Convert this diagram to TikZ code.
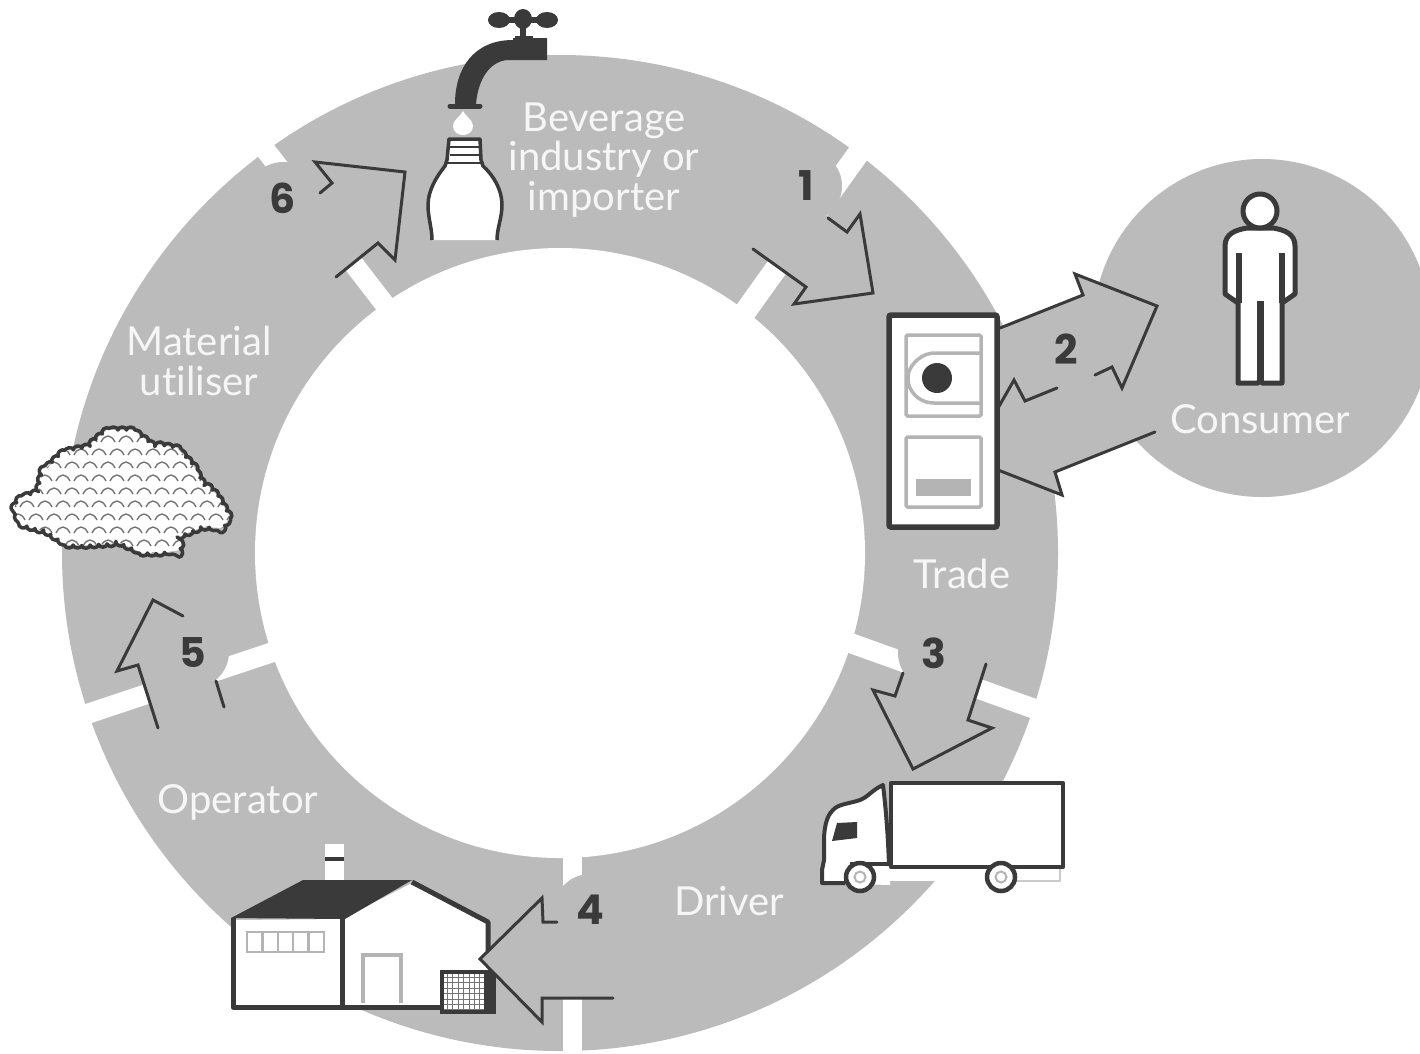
\documentclass[tikz,border=0pt]{standalone}
\usepackage{fontspec}
\setmainfont{Lato}[Ligatures=NoCommon]
\newfontfamily\numfont{Poppins}
\usetikzlibrary{decorations.pathmorphing}
\definecolor{ringgray}{HTML}{BBBBBB}
\definecolor{ink}{HTML}{3A3A3A}
\definecolor{soft}{HTML}{F6F6F6}
\definecolor{panel}{HTML}{B4B4B4}
\tikzset{
 gapline/.style={white,line width=20pt,line cap=butt},
 arrowfill/.style={fill=ringgray,draw=none},
 arrowline/.style={ink,line width=3pt,line join=miter,line cap=round},
 label/.style={text=soft,font=\fontsize{40}{39.5}\selectfont,align=center,inner sep=0pt},
 num/.style={text=ink,font=\numfont\fontsize{41}{41}\selectfont\bfseries,inner sep=0pt},
 numback/.style={fill=ringgray,draw=none},
 icon/.style={ink,line width=5pt,line join=round},
 panelline/.style={panel,line width=3.5pt,rounded corners=1.5pt},
}
\begin{document}
\begin{tikzpicture}[x=1pt,y=-1pt]
\useasboundingbox (0,0) rectangle (1420,1053);
\clip (0,0) rectangle (1420,1053);
\fill[white] (0,0) rectangle (1420,1053);
% ring and consumer disc
\fill[ringgray] (560,553) circle[radius=498];
\fill[ringgray] (1262,328) circle[radius=169];
% gaps
\draw[gapline,line width=22pt] (700,375) -- (875,130);
\draw[gapline] (800,625) -- (1060,718);
\draw[gapline,line width=19pt] (572.5,800) -- (572.5,1060);
\draw[gapline] (330,633) -- (60,723);
\draw[gapline] (420,350) -- (250,130);
\fill[white] (560,553) circle[radius=305];
% tap
\fill[ink] (513,38) -- (547,38) -- (547,60) -- (507,60) .. controls (489,62) and (478,80) .. (476,104) -- (455,104) .. controls (455,68) and (474,40) .. (513,40) -- cycle;
\draw[ink,line width=5pt,line cap=round] (450,106) -- (480,106);
\draw[ink,line width=6pt] (523,20) -- (523,38);
\draw[ink,line width=6pt] (500,20) -- (548,20);
\fill[ink] (523,19) ellipse[x radius=9,y radius=10];
\fill[ink] (499,20) ellipse[x radius=11,y radius=8];
\fill[ink] (547,20) ellipse[x radius=11,y radius=8];
\fill[ink] (515,36) rectangle (533,40);
% drop
\fill[white] (463,111) .. controls (467,118) and (473,120) .. (473,126) .. controls (473,138) and (453,138) .. (453,126) .. controls (453,120) and (459,118) .. (463,111) -- cycle;
% bottle
\fill[white] (449,139) -- (480,139) -- (482,163) .. controls (494,176) and (502,190) .. (502,205) .. controls (502,218) and (497,228) .. (497,240) -- (432,240) .. controls (432,228) and (428,218) .. (428,205) .. controls (428,190) and (437,176) .. (448,163) -- cycle;
\draw[ink,line width=3.5pt,line join=round] (432,240) .. controls (432,228) and (428,218) .. (428,205) .. controls (428,190) and (437,176) .. (445,166) -- (447,160) -- (449,139) -- (480,139) -- (481,160) -- (483,166) .. controls (494,176) and (502,190) .. (502,205) .. controls (502,218) and (497,228) .. (497,240);
\draw[ink,line width=2.5pt] (450,147) -- (480,147) (450,155) -- (480,155) (446,163) -- (484,163);
\fill[white] (456,149) rectangle (470,153);
% arrow 1
\fill[arrowfill] (753,249) -- (806,186) -- (828,218) -- (847,232) -- (860,214) -- (873,293) -- (794,304) -- (806,287) -- cycle;
\fill[numback] (806,186) circle[radius=36];
\draw[arrowline] (828,218) -- (847,232) -- (860,214) -- (873,293) -- (794,304) -- (806,287) -- (753,249);
% arrow 3
\fill[arrowfill] (903,673) -- (895,696) -- (873,690) -- (913,769) -- (992,728) -- (968,720) -- (986,664) -- (934,653) -- cycle;
\fill[numback] (934,653) circle[radius=36];
\draw[arrowline] (903,673) -- (895,696) -- (873,690) -- (913,769) -- (992,728) -- (968,720) -- (986,664);
% factory
\fill[white] (325,844) rectangle (344,882);
\fill[ink] (325,857) rectangle (344,861);
\fill[white] (233,920) -- (342,919) -- (410,884) -- (488,923) -- (488,1007) -- (233,1007) -- cycle;
\fill[ink] (231,918) -- (303,880) -- (412,880) -- (345,919) -- cycle;
\draw[icon] (233,918) -- (233,1007) -- (442,1007);
\draw[icon] (342,918) -- (342,1007);
\draw[icon] (412,882) -- (488,922) -- (488,955);
\draw[panel,line width=2.5pt] (247,932) rectangle (324,952);
\foreach \wx in {262.4,277.8,293.2,308.6}
  \draw[panel,line width=2.5pt] (\wx,932) -- (\wx,952);
\draw[panel,line width=4pt] (363,1003) -- (363,955) -- (401,955) -- (401,1003);
\fill[ink] (485,970) rectangle (496,1014);
\fill[white] (442,972) rectangle (486,1012);
\foreach \gx in {447.4,452.8,...,484} \draw[ink!70,line width=0.9pt] (\gx,972) -- (\gx,1012);
\foreach \gy in {977.4,982.8,...,1010} \draw[ink!70,line width=0.9pt] (442,\gy) -- (486,\gy);
\draw[ink,line width=4pt] (442,972) rectangle (486,1012);
% arrow 4
\fill[arrowfill] (480,959) -- (542,898) -- (543,922) -- (590,910) -- (613,998) -- (542,998) -- (542,1022) -- cycle;
\fill[numback] (590,910) circle[radius=36];
\draw[arrowline] (557,922) -- (543,922) -- (542,898) -- (480,959) -- (542,1022) -- (542,998) -- (613,998);
% arrow 5
\fill[arrowfill] (158,728) -- (138,665) -- (117,671) -- (153,600) -- (183,616) -- (193,652) -- (216,681) -- (224,707) -- cycle;
\fill[numback] (193,652) circle[radius=36];
\draw[arrowline] (183,616) -- (153,600) -- (117,671) -- (138,665) -- (158,728);
\draw[arrowline] (216,681) -- (224,707);
% arrow 6
\fill[arrowfill] (320,193) -- (332,183) -- (315,162) -- (405,172) -- (395,260) -- (378,243) -- (336,277) -- (283,198) -- cycle;
\fill[numback] (283,198) circle[radius=36];
\draw[arrowline] (320,193) -- (332,183) -- (315,162) -- (405,172) -- (395,260) -- (378,243) -- (336,277);
% arrow 2
\fill[arrowfill] (998,328) -- (1083,295) -- (1075,274) -- (1157,306) -- (1122,388) -- (1112,367) -- (1155,432) -- (1055,472) -- (1062,495) -- (998,470) -- cycle;
\draw[arrowline] (1000,328) -- (1083,295) -- (1075,274) -- (1157,306) -- (1122,388) -- (1112,367) -- (1095,375);
\draw[arrowline] (1057,388) -- (1025,401) -- (1014,380) -- (998,408);
\draw[arrowline] (1155,432) -- (1055,472) -- (1062,495) -- (998,470);
% vending machine
\draw[ink,line width=5.5pt,fill=white,rounded corners=2pt] (889,315) rectangle (997,527);
\draw[panelline] (906,335) rectangle (981,416);
\draw[panelline] (981,353) -- (933,353) .. controls (918,355) and (908,368) .. (908,378) .. controls (908,390) and (918,402) .. (933,403) -- (981,403);
\fill[ink] (937,378) circle[radius=15];
\draw[panelline] (906,437) rectangle (981,507);
\fill[panel] (916,479) rectangle (971,496);
% consumer figure
\draw[icon,fill=white] (1247,228) .. controls (1235,230) and (1225,234) .. (1225,246) -- (1225,294) -- (1238,303) -- (1238,383) -- (1258,383) -- (1260,380) -- (1262,383) -- (1282,383) -- (1282,303) -- (1295,294) -- (1295,246) .. controls (1295,234) and (1285,230) .. (1273,228) -- cycle;
\draw[ink,line width=6pt] (1239,253) -- (1239,303) (1282,253) -- (1282,303);
\draw[ink,line width=7pt] (1260,301) -- (1260,382);
\draw[icon,fill=white] (1260,211) circle[radius=17];
% truck
\fill[white] (883,785) .. controls (872,790) and (868,797) .. (860,800) .. controls (848,804) and (838,804) .. (833,810) .. controls (826,816) and (824,830) .. (824,840) -- (824,860) -- (822,870) -- (822,883) -- (890,885) -- (890,866) -- cycle;
\fill[white] (889,866) rectangle (1060,881);
\draw[panel!70,line width=1.5pt] (1012,881) -- (1060,881) -- (1060,868);
\draw[ink,line width=4pt,line join=round] (845,883) -- (822,883) -- (822,870) -- (824,860) -- (824,840) .. controls (824,830) and (826,816) .. (833,810) .. controls (838,804) and (848,804) .. (860,800) .. controls (868,797) and (872,790) .. (883,785) .. controls (886,810) and (888,835) .. (889,866);
\draw[ink,line width=4.5pt,fill=white,line join=round] (891,783) rectangle (1063,867);
\draw[ink,line width=4pt] (850,864) -- (891,864);
\fill[ink] (837,823) -- (857,822) -- (857,838) -- (832,841) -- cycle;
\foreach \wh in {860,1001} {
  \draw[ink,line width=4.5pt,fill=white] (\wh,877) circle[radius=14];
  \draw[panel,line width=2pt,fill=white] (\wh,877) circle[radius=5.5];
}
% cloud
\def\cloudpts{(12,510) -- (20,498) -- (38,492) -- (42,472) -- (63,452) -- (87,447) -- (107,430) -- (133,430) -- (150,443) -- (177,448) -- (193,465) -- (200,478) -- (217,495) -- (230,517) -- (223,528) -- (203,527) -- (182,535) -- (180,550) -- (160,553) -- (143,553) -- (120,543) -- (90,545) -- (67,545) -- (47,532) -- (23,525) -- cycle}
\fill[white] \cloudpts;
\begin{scope}
\clip \cloudpts;
\foreach \ry [count=\ri] in {425,438,...,557} {
  \pgfmathsetmacro{\shift}{mod(\ri,2)*9}
  \foreach \rx in {0,18,...,240} {
    \pgfmathsetmacro{\ax}{\rx+\shift}
    \draw[ink!70,line width=1.4pt] (\ax-7,\ry+4) .. controls (\ax-3,\ry-4) and (\ax+3,\ry-4) .. (\ax+7,\ry+4);
  }
}
\end{scope}
\draw[ink,line width=3.5pt,line join=round,decorate,decoration={bumps,segment length=17pt,amplitude=3pt}] \cloudpts;
% labels
\node[label] (lbev) at (604,160) {Beverage\\industry or\\importer};
\node[label] (ltrade) at (962,574) {Trade};
\node[label] (lcons) at (1260,419) {Consumer};
\node[label] (ldriver) at (729,901) {Driver};
\node[label] (loper) at (238,802) {Operator};
\node[label] (lmat) at (199,361) {Material\\utiliser};
\node[num] (n1) at (806,186) {1};
\node[num] (n2) at (1066,349) {2};
\node[num] (n3) at (934,653) {3};
\node[num] (n4) at (590,910) {4};
\node[num] (n5) at (193,652) {5};
\node[num] (n6) at (283,198) {6};
\end{tikzpicture}
\end{document}
